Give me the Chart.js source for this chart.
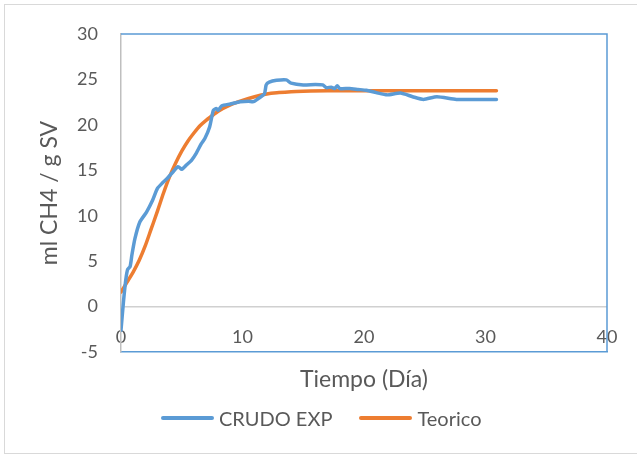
<!DOCTYPE html>
<html>
<head>
<meta charset="utf-8">
<script src="https://cdn.jsdelivr.net/npm/chart.js@4.4.1/dist/chart.umd.min.js"></script>
<style>
  html, body { margin: 0; padding: 0; background: #fff; }
  #wrap { position: relative; width: 637px; height: 456px; overflow: hidden; }
  #frame { position: absolute; left: 4px; top: 4px; width: 720px; height: 450px;
           border: 1px solid #d9d9d9; box-sizing: border-box; }
  #chart { position: absolute; left: 0; top: 0; }
  #legend { position: absolute; left: 161px; top: 406px; display: flex; align-items: center;
            font-family: Lato, "Open Sans", sans-serif; font-size: 20px; color: #595959; }
  #legend .item { display: flex; align-items: center; margin-right: 27px; white-space: nowrap; }
  #legend .swatch { width: 53px; height: 4px; border-radius: 2px; margin-right: 5px; }
</style>
</head>
<body>
<div id="wrap">
  <div id="frame"></div>
  <canvas id="chart" width="637" height="456"></canvas>
  <div id="legend"></div>
</div>
<script>
// Experimental cumulative methane yield (day, ml CH4 / g SV)
const crudoDia = [0, 0.2, 0.4, 0.55, 0.75, 0.9, 1.15, 1.55, 2.1, 2.6, 3.0, 3.4, 3.8, 4.2, 4.7, 5.0, 5.4, 5.8,
  6.2, 6.6, 6.9, 7.3, 7.6, 7.85, 8.0, 8.3, 9.0, 9.8, 10.5, 10.9, 11.3, 11.8, 11.95, 12.2, 12.8, 13.6, 14.0,
  15.0, 16.0, 16.6, 16.9, 17.3, 17.6, 17.8, 18.0, 18.8, 19.5, 20.2, 21.0, 21.9, 23.0, 24.0, 24.9, 26.0,
  27.6, 29.3, 30.9];
const crudoVal = [-2.6, 0.5, 3.0, 4.1, 4.4, 5.7, 7.5, 9.3, 10.4, 11.7, 13.0, 13.6, 14.1, 14.7, 15.4, 15.1, 15.6, 16.1,
  16.9, 17.9, 18.5, 19.8, 21.6, 21.8, 21.6, 22.1, 22.3, 22.55, 22.6, 22.55, 22.9, 23.4, 24.4, 24.7, 24.9, 24.95, 24.6,
  24.4, 24.45, 24.4, 24.1, 24.15, 24.0, 24.3, 24.0, 24.0, 23.9, 23.8, 23.55, 23.3, 23.5, 23.1, 22.8, 23.1,
  22.8, 22.8, 22.8];

// Model curve
const teoDia = [0, 0.5, 1, 1.5, 2, 2.5, 3, 3.5, 4, 4.5, 5, 5.5, 6, 6.5, 7, 7.5, 8, 9, 10, 11, 12, 13, 14, 15,
  17, 20, 25, 30.9];
const teoVal = [1.6, 2.7, 3.8, 5.1, 6.7, 8.6, 10.5, 12.5, 14.3, 15.8, 17.1, 18.2, 19.1, 19.9, 20.5, 21.0, 21.5,
  22.2, 22.7, 23.1, 23.4, 23.55, 23.65, 23.7, 23.75, 23.75, 23.75, 23.75];

const seriesNames = ['CRUDO EXP', 'Teorico'];
const seriesColors = ['#5b9bd5', '#ed7d31'];
const xTicks = [0, 10, 20, 30, 40];
const yTicks = [-5, 0, 5, 10, 15, 20, 25, 30];

const toPoints = (xs, ys) => xs.map((x, i) => ({ x: x, y: ys[i] }));
const tickColor = '#595959';
const fontFamily = 'Lato, "Open Sans", sans-serif';

// Blue frame on the top and right of the plot area
const plotFrame = {
  id: 'plotFrame',
  beforeDatasetsDraw(chart) {
    const { ctx, chartArea: a } = chart;
    ctx.save();
    ctx.strokeStyle = '#5b9bd5';
    ctx.lineWidth = 1.5;
    ctx.beginPath();
    ctx.moveTo(a.left, a.top);
    ctx.lineTo(a.right, a.top);
    ctx.lineTo(a.right, a.bottom);
    ctx.stroke();
    ctx.restore();
  }
};

// Legend built as HTML from the chart's own legend items
const htmlLegend = {
  id: 'htmlLegend',
  afterUpdate(chart) {
    const box = document.getElementById('legend');
    box.innerHTML = '';
    chart.options.plugins.legend.labels.generateLabels(chart).forEach(item => {
      const el = document.createElement('div');
      el.className = 'item';
      const sw = document.createElement('span');
      sw.className = 'swatch';
      sw.style.background = item.strokeStyle;
      const tx = document.createElement('span');
      tx.textContent = item.text;
      el.appendChild(sw);
      el.appendChild(tx);
      box.appendChild(el);
    });
  }
};

new Chart(document.getElementById('chart'), {
  type: 'line',
  data: {
    datasets: [
      {
        label: seriesNames[0],
        data: toPoints(crudoDia, crudoVal),
        borderColor: seriesColors[0],
        backgroundColor: seriesColors[0],
        borderWidth: 3.5,
        pointRadius: 0,
        tension: 0.2,
        borderCapStyle: 'round',
        borderJoinStyle: 'round'
      },
      {
        label: seriesNames[1],
        data: toPoints(teoDia, teoVal),
        borderColor: seriesColors[1],
        backgroundColor: seriesColors[1],
        borderWidth: 3.5,
        pointRadius: 0,
        cubicInterpolationMode: 'monotone',
        borderCapStyle: 'round'
      }
    ]
  },
  options: {
    responsive: false,
    animation: false,
    devicePixelRatio: 1,
    layout: { padding: { left: 5, top: 34, right: 30, bottom: 56 } },
    plugins: {
      legend: { display: false },
      tooltip: { enabled: false }
    },
    scales: {
      x: {
        type: 'linear',
        min: xTicks[0],
        max: xTicks[xTicks.length - 1],
        afterBuildTicks(s) { s.ticks = xTicks.map(v => ({ value: v })); },
        afterFit(s) { s.height = 48; },
        grid: { display: false, drawTicks: false },
        border: { display: true, color: '#5b9bd5', width: 1.5 },
        ticks: { color: tickColor, font: { family: fontFamily, size: 18 }, mirror: true, padding: 4, maxRotation: 0 },
        title: { display: true, text: 'Tiempo (Día)', color: tickColor,
                 font: { family: fontFamily, size: 23 }, padding: { top: 0, bottom: 7 } }
      },
      y: {
        min: yTicks[0],
        max: yTicks[yTicks.length - 1],
        afterBuildTicks(s) { s.ticks = yTicks.map(v => ({ value: v })); },
        afterFit(s) { s.width = 116; },
        grid: {
          drawTicks: false,
          color: c => (c.tick && c.tick.value === 0 ? '#d0d0d0' : 'rgba(0,0,0,0)'),
          lineWidth: 1.5
        },
        border: { display: true, color: '#bfbfbf', width: 1.5 },
        ticks: { color: tickColor, font: { family: fontFamily, size: 18 }, padding: 23 },
        title: { display: true, text: 'ml CH4 / g SV', color: tickColor,
                 font: { family: fontFamily, size: 23 }, padding: { top: 31, bottom: 0 } }
      }
    }
  },
  plugins: [plotFrame, htmlLegend]
});
</script>
</body>
</html>
